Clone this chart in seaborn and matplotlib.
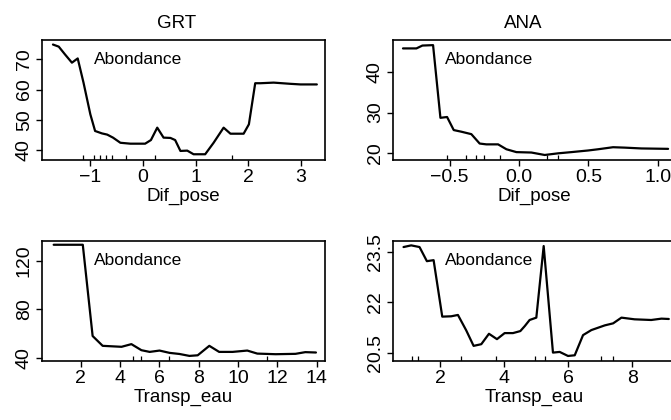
import matplotlib
matplotlib.use("Agg")
import matplotlib.pyplot as plt
import seaborn as sns
import pandas as pd

# ---- data ----
grt_dif_x = [-1.71, -1.60, -1.48, -1.35, -1.24, -1.13, -1.00, -0.91, -0.78, -0.68, -0.57, -0.43, -0.24,
             0.04, 0.15, 0.27, 0.39, 0.52, 0.61, 0.71, 0.84, 0.96, 1.18, 1.34, 1.53, 1.66, 1.91, 2.01,
             2.13, 2.23, 2.48, 2.80, 2.99, 3.30]
grt_dif_y = [74.9, 74.2, 71.6, 68.9, 70.3, 62.3, 51.8, 46.3, 45.5, 45.1, 44.1, 42.4, 42.1, 42.1, 43.3,
             47.4, 44.1, 44.0, 43.3, 39.7, 39.8, 38.6, 38.6, 42.4, 47.4, 45.4, 45.4, 48.5, 62.1, 62.1,
             62.3, 61.9, 61.7, 61.7]
grt_dif_rug = [-1.14, -0.94, -0.81, -0.70, -0.59, -0.32, 0.22, 1.69]

ana_dif_x = [-0.837, -0.740, -0.697, -0.620, -0.567, -0.519, -0.471, -0.416, -0.344, -0.284, -0.236,
             -0.151, -0.091, -0.019, 0.089, 0.185, 0.281, 0.377, 0.498, 0.570, 0.678, 0.762, 0.882, 1.075]
ana_dif_y = [45.7, 45.7, 46.4, 46.5, 28.7, 28.9, 25.7, 25.3, 24.7, 22.4, 22.2, 22.2, 21.0, 20.3, 20.2,
             19.6, 20.0, 20.3, 20.7, 21.0, 21.5, 21.4, 21.2, 21.1]
ana_dif_rug = [-0.52, -0.38, -0.31, -0.25, -0.14, 0.20, 0.28]

grt_tr_x = [0.63, 2.11, 2.61, 3.12, 4.08, 4.58, 5.09, 5.51, 6.01, 6.52, 7.02, 7.53, 7.95, 8.54, 9.04,
            9.72, 10.47, 10.98, 11.91, 12.92, 13.42, 13.96]
grt_tr_y = [133.0, 133.0, 57.8, 49.7, 48.9, 51.1, 46.1, 44.7, 45.8, 43.9, 43.0, 41.4, 41.9, 49.7, 44.7,
            44.7, 45.8, 43.3, 42.8, 43.1, 44.5, 44.2]
grt_tr_rug = [4.67, 5.09, 6.48, 11.48]

ana_tr_x = [0.85, 1.09, 1.35, 1.58, 1.79, 2.06, 2.34, 2.55, 2.81, 3.04, 3.28, 3.52, 3.77, 4.01, 4.27,
            4.50, 4.64, 4.79, 5.00, 5.23, 5.52, 5.73, 5.99, 6.20, 6.46, 6.72, 7.14, 7.40, 7.66, 8.07,
            8.59, 8.91, 9.14]
ana_tr_y = [23.64, 23.69, 23.64, 23.22, 23.25, 21.57, 21.58, 21.62, 21.16, 20.70, 20.75, 21.06, 20.90,
            21.08, 21.08, 21.14, 21.29, 21.47, 21.54, 23.67, 20.50, 20.52, 20.40, 20.42, 21.02, 21.17,
            21.31, 21.37, 21.54, 21.49, 21.47, 21.51, 21.50]
ana_tr_rug = [1.12, 1.30, 2.66, 3.73, 4.95, 5.26, 7.03, 7.40]

titles = ["GRT", "ANA"]
xlabels = ["Dif_pose", "Dif_pose", "Transp_eau", "Transp_eau"]
annot = "Abondance"

xt_grt_dif = [-1, 0, 1, 2, 3]
xtl_grt_dif = ["\u22121", "0", "1", "2", "3"]
yt_grt_dif = [40, 50, 60, 70]
xt_ana_dif = [-0.5, 0.0, 0.5, 1.0]
xtl_ana_dif = ["\u22120.5", "0.0", "0.5", "1.0"]
yt_ana_dif = [20, 30, 40]
xt_grt_tr = [2, 4, 6, 8, 10, 12, 14]
yt_grt_tr = [40, 80, 120]
xt_ana_tr = [2, 4, 6, 8]
yt_ana_tr = [20.5, 22, 23.5]
ytl_ana_tr = ["20.5", "22", "23.5"]

sns.set_theme(style="ticks", rc={
    "text.color": "black", "axes.labelcolor": "black", "xtick.color": "black",
    "ytick.color": "black", "axes.edgecolor": "black", "axes.linewidth": 1.2,
})
plt.rcParams['font.family'] = ['Liberation Sans', 'DejaVu Sans']

W, H = 671, 420
fig = plt.figure(figsize=(W / 100, H / 100), dpi=100)
fig.patch.set_facecolor("white")


def box(l, t, r, b):
    return fig.add_axes([l / W, 1 - b / H, (r - l) / W, (b - t) / H])


panels = [
    dict(pos=(42, 40, 325, 160), x=grt_dif_x, y=grt_dif_y, rug=grt_dif_rug,
         xlim=(-1.918, 3.455), ylim=(36.7, 76.4), xt=xt_grt_dif, xtl=xtl_grt_dif,
         yt=yt_grt_dif, ytl=[str(v) for v in yt_grt_dif], xl=xlabels[0]),
    dict(pos=(393, 40, 676, 160), x=ana_dif_x, y=ana_dif_y, rug=ana_dif_rug,
         xlim=(-0.909, 1.132), ylim=(18.37, 47.76), xt=xt_ana_dif, xtl=xtl_ana_dif,
         yt=yt_ana_dif, ytl=[str(v) for v in yt_ana_dif], xl=xlabels[1]),
    dict(pos=(42, 241, 325, 361), x=grt_tr_x, y=grt_tr_y, rug=grt_tr_rug,
         xlim=(0.037, 14.42), ylim=(37.2, 136.1), xt=xt_grt_tr, xtl=[str(v) for v in xt_grt_tr],
         yt=yt_grt_tr, ytl=[str(v) for v in yt_grt_tr], xl=xlabels[2]),
    dict(pos=(393, 241, 676, 361), x=ana_tr_x, y=ana_tr_y, rug=ana_tr_rug,
         xlim=(0.521, 9.365), ylim=(20.25, 23.82), xt=xt_ana_tr, xtl=[str(v) for v in xt_ana_tr],
         yt=yt_ana_tr, ytl=ytl_ana_tr, xl=xlabels[3]),
]

for p in panels:
    ax = box(*p["pos"])
    df = pd.DataFrame({"x": p["x"], "y": p["y"]})
    sns.lineplot(data=df, x="x", y="y", ax=ax, color="black", linewidth=1.6,
                 sort=False, estimator=None)
    sns.rugplot(x=p["rug"], ax=ax, height=0.04, color="black", linewidth=0.9)
    ax.set_xlim(*p["xlim"])
    ax.set_ylim(*p["ylim"])
    ax.set_xticks(p["xt"])
    ax.set_xticklabels(p["xtl"])
    ax.set_yticks(p["yt"])
    ax.set_yticklabels(p["ytl"], rotation=90, va="center")
    ax.tick_params(direction="out", length=4.5, width=1.0, labelsize=14, pad=2)
    ax.set_xlabel(p["xl"], fontsize=13.5, labelpad=1)
    ax.set_ylabel("")
    for s in ax.spines.values():
        s.set_visible(True)
        s.set_linewidth(1.2)
    ax.text(0.185, 0.835, annot, transform=ax.transAxes, ha="left", va="center", fontsize=12.5)

fig.text(177 / W, 1 - 23 / H, titles[0], ha="center", va="center", fontsize=13.5)
fig.text(523 / W, 1 - 23 / H, titles[1], ha="center", va="center", fontsize=13.5)

fig.savefig("out.png", dpi=100, facecolor="white")
